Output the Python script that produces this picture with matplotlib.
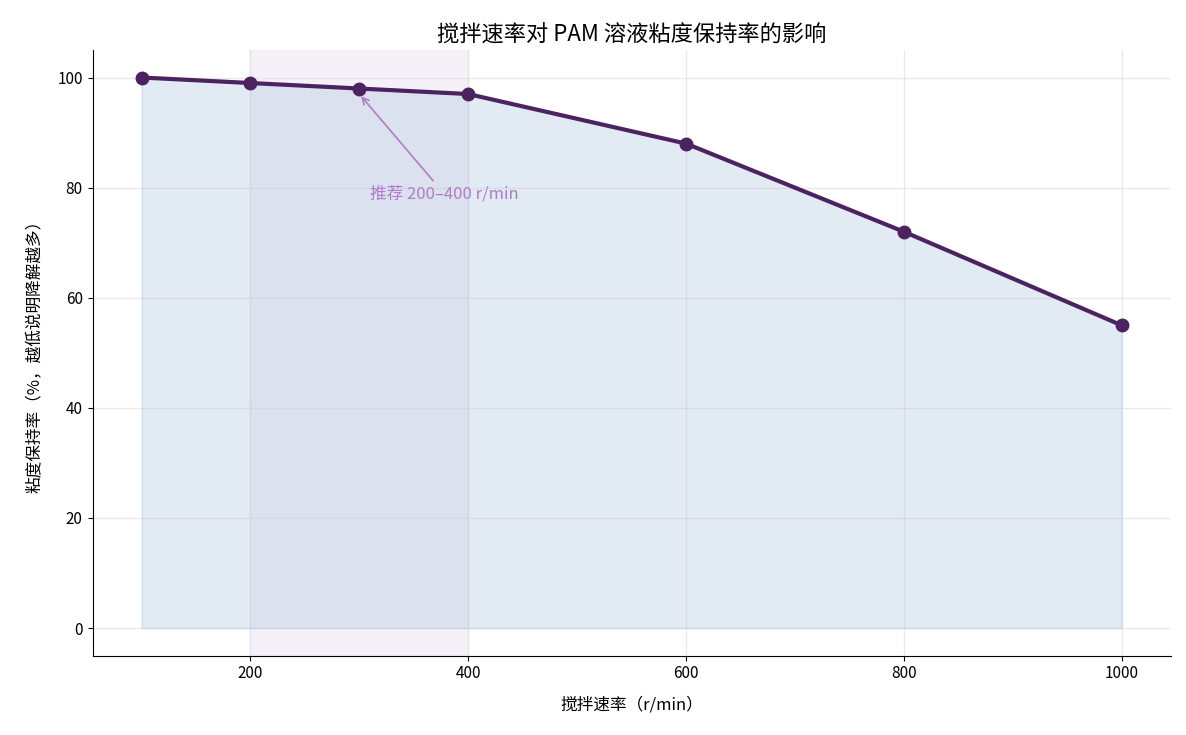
import matplotlib
matplotlib.use("Agg")
import matplotlib.pyplot as plt

plt.rcParams["font.family"] = ["Noto Sans CJK SC", "DejaVu Sans"]
plt.rcParams["axes.unicode_minus"] = False

# 数据
speed = [100, 200, 300, 400, 600, 800, 1000]
retention = [100, 99, 98, 97, 88, 72, 55]
rec_range = [200, 400]

fig, ax = plt.subplots(figsize=(11.86, 7.35), dpi=100)

ax.axvspan(rec_range[0], rec_range[1], color="#eadcf0", alpha=0.4, zorder=0)
ax.fill_between(speed, retention, 0, color="#a9c1dc", alpha=0.33, zorder=1)
ax.plot(speed, retention, color="#4b2360", linewidth=3, marker="o",
        markersize=9, zorder=3)

ax.annotate("推荐 200–400 r/min", xy=(300, 97), xytext=(310, 78),
            color="#b07cc6", fontsize=12,
            arrowprops=dict(arrowstyle="->", color="#b07cc6", lw=1.2))

ax.set_title("搅拌速率对 PAM 溶液粘度保持率的影响", fontsize=16)
ax.set_xlabel("搅拌速率（r/min）", fontsize=12, labelpad=10)
ax.set_ylabel("粘度保持率（%，越低说明降解越多）", fontsize=12, labelpad=10)
ax.set_xlim(55, 1045)
ax.set_ylim(-5, 105)
ax.set_xticks([200, 400, 600, 800, 1000])
ax.set_yticks([0, 20, 40, 60, 80, 100])
ax.tick_params(labelsize=11)
ax.grid(True, color="#dddddd", alpha=0.6, linewidth=1)
ax.set_axisbelow(True)
for s in ["top", "right"]:
    ax.spines[s].set_visible(False)

fig.subplots_adjust(left=0.078, right=0.987, top=0.932, bottom=0.108)
fig.savefig("out.png")
